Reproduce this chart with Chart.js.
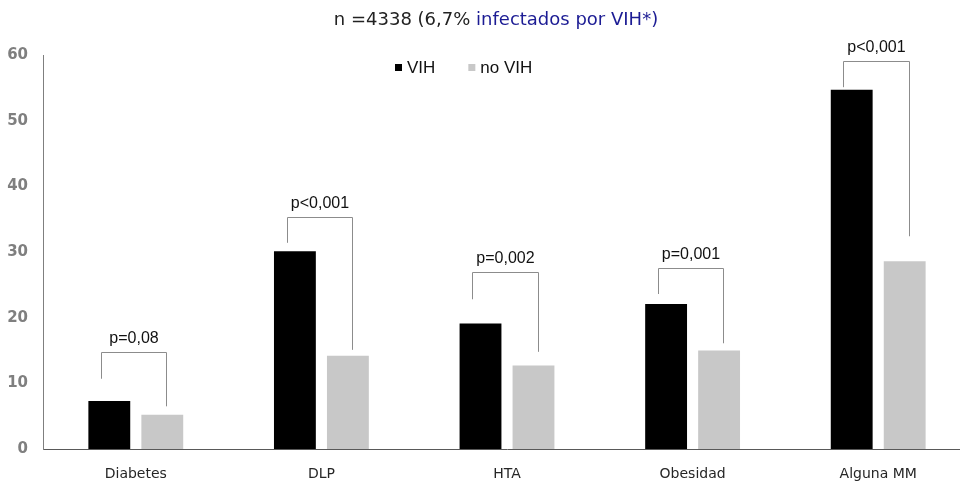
<!DOCTYPE html>
<html>
<head>
<meta charset="utf-8">
<script src="https://cdn.jsdelivr.net/npm/chart.js@4.4.0/dist/chart.umd.min.js"></script>
<style>
  html, body { margin: 0; padding: 0; background: #fff; overflow: hidden; }
  #wrap { width: 990px; height: 481px; }
</style>
</head>
<body>
<div id="wrap"><canvas id="myChart" width="990" height="481"></canvas></div>
<script>
const categorias = ["Diabetes", "DLP", "HTA", "Obesidad", "Alguna MM"];
const vih = [7.3, 30.1, 19.1, 22.1, 54.7];
const noVih = [5.2, 14.2, 12.7, 15.0, 28.6];
const pValores = ["p=0,08", "p<0,001", "p=0,002", "p=0,001", "p<0,001"];
// altura del corchete y extremos de cada brazo (en unidades del eje)
const corcheteAlto = [14.8, 35.3, 27.0, 27.6, 59.1];
const corcheteIzq = [10.7, 31.4, 22.8, 23.6, 55.1];
const corcheteDer = [6.5, 15.1, 14.8, 16.1, 32.4];
const yTicks = [0, 10, 20, 30, 40, 50, 60];

const tituloPlugin = {
  id: "titulo",
  afterDraw(chart) {
    const c = chart.ctx;
    const parte1 = "n =4338 (6,7% ";
    const parte2 = "infectados por VIH*)";
    c.save();
    c.font = "18px 'DejaVu Sans'";
    c.textBaseline = "middle";
    const w1 = c.measureText(parte1).width;
    const w2 = c.measureText(parte2).width;
    let x = 496 - (w1 + w2) / 2;
    c.fillStyle = "#222222";
    c.fillText(parte1, x, 20);
    c.fillStyle = "#1c1c94";
    c.fillText(parte2, x + w1, 20);
    c.restore();
  },
};

const leyendaPlugin = {
  id: "leyenda",
  afterDraw(chart) {
    const c = chart.ctx;
    c.save();
    c.font = "17px 'Liberation Sans'";
    c.textBaseline = "middle";
    let x = 395;
    const y = 68;
    chart.data.datasets.forEach((ds) => {
      c.fillStyle = ds.backgroundColor;
      c.fillRect(x, y - 4, 7, 7);
      c.fillStyle = "#111";
      c.fillText(ds.label, x + 12, y);
      x += 12 + c.measureText(ds.label).width + 33;
    });
    c.restore();
  },
};

const corchetesPlugin = {
  id: "corchetes",
  afterDatasetsDraw(chart) {
    const c = chart.ctx;
    const yScale = chart.scales.y;
    const m0 = chart.getDatasetMeta(0);
    const m1 = chart.getDatasetMeta(1);
    c.save();
    c.strokeStyle = "#8c8c8c";
    c.lineWidth = 1;
    categorias.forEach((cat, i) => {
      const b0 = m0.data[i];
      const b1 = m1.data[i];
      const x0 = Math.round(b0.x - b0.width * 0.2) + 0.5;
      const x1 = Math.round(b1.x + b1.width * 0.1) + 0.5;
      const yTop = Math.round(yScale.getPixelForValue(corcheteAlto[i])) + 0.5;
      const yIzq = yScale.getPixelForValue(corcheteIzq[i]);
      const yDer = yScale.getPixelForValue(corcheteDer[i]);
      c.beginPath();
      c.moveTo(x0, yIzq);
      c.lineTo(x0, yTop);
      c.lineTo(x1, yTop);
      c.lineTo(x1, yDer);
      c.stroke();
      c.fillStyle = "#111";
      c.font = "16px 'Liberation Sans'";
      c.textAlign = "center";
      c.textBaseline = "alphabetic";
      c.fillText(pValores[i], (x0 + x1) / 2, yTop - 10);
    });
    c.restore();
  },
};

const ctx = document.getElementById("myChart");

new Chart(ctx, {
  type: "bar",
  data: {
    labels: categorias,
    datasets: [
      { label: "VIH", data: vih, backgroundColor: "#000000" },
      { label: "no VIH", data: noVih, backgroundColor: "#c8c8c8" },
    ],
  },
  options: {
    responsive: false,
    animation: false,
    layout: { padding: { top: 55, right: 19, left: 0, bottom: 0 } },
    datasets: {
      bar: { categoryPercentage: 0.571, barPercentage: 0.79 },
    },
    plugins: {
      legend: { display: false },
      title: { display: false },
      tooltip: { enabled: false },
    },
    scales: {
      x: {
        grid: { display: false },
        border: { display: true, color: "#595959", width: 1 },
        ticks: {
          color: "#262626",
          font: { family: "DejaVu Sans", size: 14 },
          padding: 9,
        },
        afterFit(scale) {
          scale.height = 32;
        },
      },
      y: {
        min: 0,
        max: 60,
        afterBuildTicks(scale) {
          scale.ticks = yTicks.map((v) => ({ value: v }));
        },
        grid: { display: false },
        border: { display: true, color: "#7f7f7f", width: 1 },
        ticks: {
          color: "#7f7f7f",
          font: { family: "DejaVu Sans", size: 15, weight: "bold" },
          padding: 7,
        },
        afterFit(scale) {
          scale.width = 43;
        },
      },
    },
  },
  plugins: [tituloPlugin, leyendaPlugin, corchetesPlugin],
});
</script>
</body>
</html>
